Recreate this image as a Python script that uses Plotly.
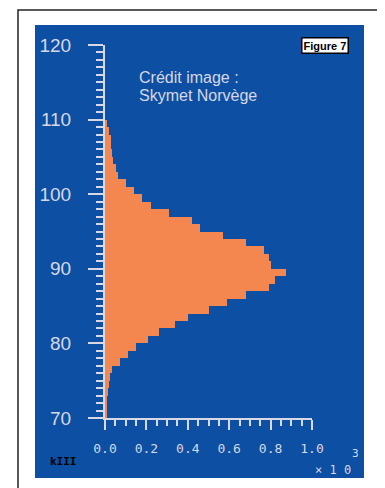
import plotly.graph_objects as go

# Histogram bins (lower edge of each 1-unit bin) and bar lengths (x 10^3)
bin_edges = list(range(70, 110))
counts = [
    0.006, 0.008, 0.012, 0.015, 0.02, 0.025, 0.035, 0.072, 0.11, 0.15,
    0.21, 0.26, 0.34, 0.40, 0.50, 0.59, 0.68, 0.79, 0.82, 0.875,
    0.80, 0.79, 0.77, 0.68, 0.57, 0.46, 0.42, 0.31, 0.22, 0.18,
    0.14, 0.10, 0.065, 0.055, 0.04, 0.035, 0.03, 0.03, 0.02, 0.01,
]

y_ticks = [70, 80, 90, 100, 110, 120]
x_ticks = [0.0, 0.2, 0.4, 0.6, 0.8, 1.0]
x_tick_labels = ["0.0", "0.2", "0.4", "0.6", "0.8", "1.0"]

# page body has an 8px margin, so the figure is drawn 8px in from the corner
OFF = 8
W, H = 385 - OFF, 488 - OFF
L, R, T, B = 105 - OFF, 73, 45 - OFF, 70
BLUE = "#0c4fa3"
ORANGE = "#f4874f"
LIGHT = "#d8d8e6"


def px_x(px):
    # screen pixel -> paper coordinate
    return (px - OFF - L) / (W - L - R)


def px_y(py):
    return (H - B - (py - OFF)) / (H - T - B)


fig = go.Figure(
    go.Bar(
        y=[b + 0.5 for b in bin_edges],
        x=counts,
        orientation="h",
        width=1,
        marker={"color": ORANGE, "line": {"width": 0}},
        hoverinfo="skip",
    )
)

axis_common = dict(
    showline=True,
    linecolor=LIGHT,
    linewidth=2,
    ticks="outside",
    tickcolor=LIGHT,
    tickwidth=2,
    showgrid=False,
    zeroline=False,
)

fig.update_xaxes(
    range=[0, 1.0],
    tickvals=x_ticks,
    ticktext=x_tick_labels,
    ticklen=10,
    minor={"dtick": 0.05, "ticklen": 6, "tickcolor": LIGHT, "tickwidth": 2, "ticks": "outside"},
    tickfont={"family": "DejaVu Sans Mono", "size": 13, "color": LIGHT},
    ticklabelstandoff=7,
    **axis_common,
)
fig.update_yaxes(
    range=[70, 120],
    tickvals=y_ticks,
    ticklen=15,
    minor={"dtick": 1, "ticklen": 7, "tickcolor": LIGHT, "tickwidth": 2, "ticks": "outside"},
    tickfont={"family": "Liberation Sans, Arial", "size": 19, "color": LIGHT},
    ticklabelstandoff=13,
    **axis_common,
)

shapes = [
    # outer page frame
    dict(type="rect", xref="paper", yref="paper", layer="below",
         x0=px_x(18), x1=px_x(380), y0=px_y(520), y1=px_y(10),
         line={"color": "#222222", "width": 1.5}, fillcolor="white"),
    # blue panel
    dict(type="rect", xref="paper", yref="paper", layer="below",
         x0=px_x(35), x1=px_x(364), y0=px_y(478), y1=px_y(25),
         line={"width": 0}, fillcolor=BLUE),
]

annotations = [
    dict(text="Crédit image :", x=px_x(137), y=px_y(78), xanchor="left", yanchor="middle",
         font={"family": "Liberation Sans, Arial", "size": 16, "color": LIGHT}),
    dict(text="Skymet Norvège", x=px_x(137), y=px_y(95), xanchor="left", yanchor="middle",
         font={"family": "Liberation Sans, Arial", "size": 16, "color": LIGHT}),
    dict(text="<b>Figure 7</b>", x=px_x(325), y=px_y(45), xanchor="center", yanchor="middle",
         bgcolor="white", bordercolor="black", borderwidth=1.5, borderpad=1,
         font={"family": "Liberation Sans Narrow, Liberation Sans, Arial", "size": 11, "color": "black"}),
    dict(text="3", x=px_x(355), y=px_y(453), xanchor="center", yanchor="middle",
         font={"family": "DejaVu Sans Mono", "size": 11, "color": LIGHT}),
    dict(text="× 1 0", x=px_x(333), y=px_y(470), xanchor="center", yanchor="middle",
         font={"family": "DejaVu Sans Mono", "size": 12, "color": LIGHT}),
    dict(text="<b>kIII</b>", x=px_x(63), y=px_y(461), xanchor="center", yanchor="middle",
         font={"family": "DejaVu Sans Mono", "size": 11, "color": "black"}),
]
for a in annotations:
    a.update(xref="paper", yref="paper", showarrow=False)

fig.update_layout(
    width=W,
    height=H,
    margin={"l": L, "r": R, "t": T, "b": B, "pad": 0},
    paper_bgcolor="white",
    plot_bgcolor="rgba(0,0,0,0)",
    bargap=0,
    showlegend=False,
    shapes=shapes,
    annotations=annotations,
)

fig.write_html("out.html")
